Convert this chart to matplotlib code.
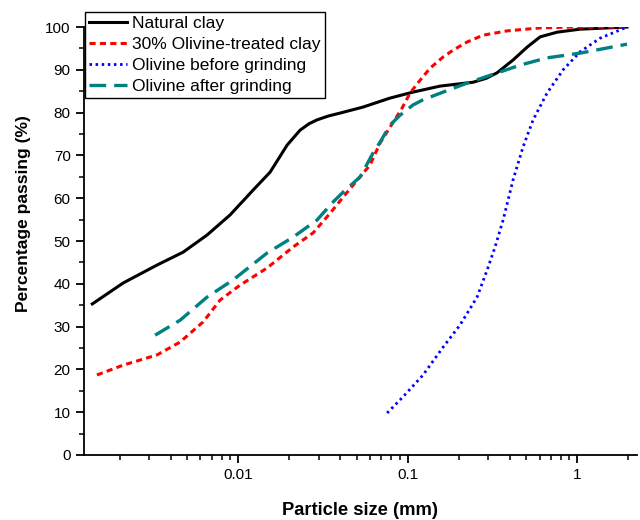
import matplotlib.pyplot as plt
from matplotlib.ticker import LogLocator, NullFormatter, FixedLocator, FixedFormatter, MultipleLocator

plt.rcParams['font.family'] = ['Liberation Sans', 'DejaVu Sans']

# ---------------------------------------------------- data ----------------------------------------------#
natural_x = [0.00138, 0.0021, 0.00333, 0.00474, 0.00656, 0.00897, 0.01226, 0.01545, 0.01945, 0.0232,
             0.0262, 0.0292, 0.034, 0.04, 0.0546, 0.0788, 0.1077, 0.1555, 0.243, 0.29, 0.337, 0.419,
             0.507, 0.605, 0.762, 1.04, 1.97]
natural_y = [35.3, 40.2, 44.4, 47.4, 51.4, 56.1, 61.9, 66.1, 72.4, 75.9,
             77.4, 78.3, 79.2, 79.9, 81.3, 83.4, 84.8, 86.2, 87.1, 88.0, 89.3, 92.3,
             95.3, 97.7, 98.8, 99.5, 100.0]

treated_x = [0.00147, 0.0021, 0.00333, 0.00455, 0.00622, 0.00783, 0.01028, 0.01483, 0.0211, 0.0277,
             0.0349, 0.044, 0.0601, 0.0688, 0.0788, 0.0929, 0.1035, 0.1186, 0.1358, 0.162, 0.1855,
             0.2244, 0.279, 0.386, 0.605, 0.947, 1.97]
treated_y = [18.7, 21.0, 23.4, 26.4, 31.1, 36.2, 39.7, 43.7, 48.6, 51.9,
             56.5, 61.4, 67.8, 72.9, 76.6, 81.1, 84.6, 87.6, 90.4, 93.0, 94.6,
             96.5, 98.1, 99.1, 99.8, 100.0, 100.0]

before_x = [0.0757, 0.094, 0.1234, 0.162, 0.204, 0.257, 0.2944, 0.328, 0.366, 0.419, 0.48, 0.55,
            0.665, 0.827, 1.04, 1.367, 1.97]
before_y = [9.8, 13.6, 18.7, 25.2, 30.4, 36.9, 43.2, 48.6, 54.9, 64.3, 72.0, 78.3,
            84.6, 90.0, 94.2, 97.4, 100.0]

after_x = [0.00324, 0.00455, 0.00656, 0.00934, 0.01483, 0.0211, 0.0292, 0.0363, 0.0416, 0.0525,
           0.0626, 0.0688, 0.0788, 0.0903, 0.1077, 0.1234, 0.162, 0.2244, 0.351, 0.461, 0.665,
           1.04, 1.97]
after_y = [28.0, 31.5, 36.9, 40.9, 47.2, 50.9, 54.9, 59.1, 61.4, 65.0,
           70.6, 73.1, 77.1, 79.4, 81.8, 83.0, 84.8, 86.9, 89.5, 91.1, 92.8,
           93.9, 96.0]

x_ticks = [0.01, 0.1, 1]
x_ticklabels = ['0.01', '0.1', '1']

# ---------------------------------------------------- plot ----------------------------------------------#
fig = plt.figure(figsize=(6.4, 5.2), dpi=100)
ax = fig.add_axes([0.131, 0.125, 0.864, 0.823])

ax.plot(natural_x, natural_y, color='black', lw=2.2, label='Natural clay')
ax.plot(treated_x, treated_y, color='#ff0000', lw=2.2, dashes=(2.0, 1.4), label='30% Olivine-treated clay')
ax.plot(before_x, before_y, color='#0000ff', lw=2.0, dashes=(0.9, 1.3), label='Olivine before grinding')
ax.plot(after_x, after_y, color='#008080', lw=2.4, dashes=(5.0, 2.4), label='Olivine after grinding')

ax.set_xscale('log')
ax.set_xlim(0.00123, 2.25)
ax.set_ylim(0, 100)

ax.xaxis.set_major_locator(FixedLocator(x_ticks))
ax.xaxis.set_major_formatter(FixedFormatter(x_ticklabels))
ax.xaxis.set_minor_locator(LogLocator(base=10, subs=range(2, 10), numticks=20))
ax.xaxis.set_minor_formatter(NullFormatter())
ax.yaxis.set_major_locator(MultipleLocator(10))
ax.yaxis.set_minor_locator(MultipleLocator(5))

for s in ['top', 'right']:
    ax.spines[s].set_visible(False)
for s in ['left', 'bottom']:
    ax.spines[s].set_linewidth(1.3)

ax.tick_params(which='major', direction='out', length=6, width=1.3, labelsize=11)
ax.tick_params(which='minor', direction='out', length=3.5, width=1.1)

ax.set_xlabel('Particle size (mm)', fontsize=13.2, fontweight='bold', labelpad=14)
ax.set_ylabel('Percentage passing (%)', fontsize=12.5, fontweight='bold')
ax.yaxis.set_label_coords(-0.096, 0.563)

leg = fig.legend(loc='upper left', bbox_to_anchor=(0.133, 0.977), fontsize=12.5, frameon=True,
                 fancybox=False, edgecolor='black', framealpha=1, handlelength=2.2,
                 handletextpad=0.3, borderpad=0.22, labelspacing=0.34, borderaxespad=0)
leg.get_frame().set_linewidth(1.0)

fig.savefig('out.png', dpi=100)
